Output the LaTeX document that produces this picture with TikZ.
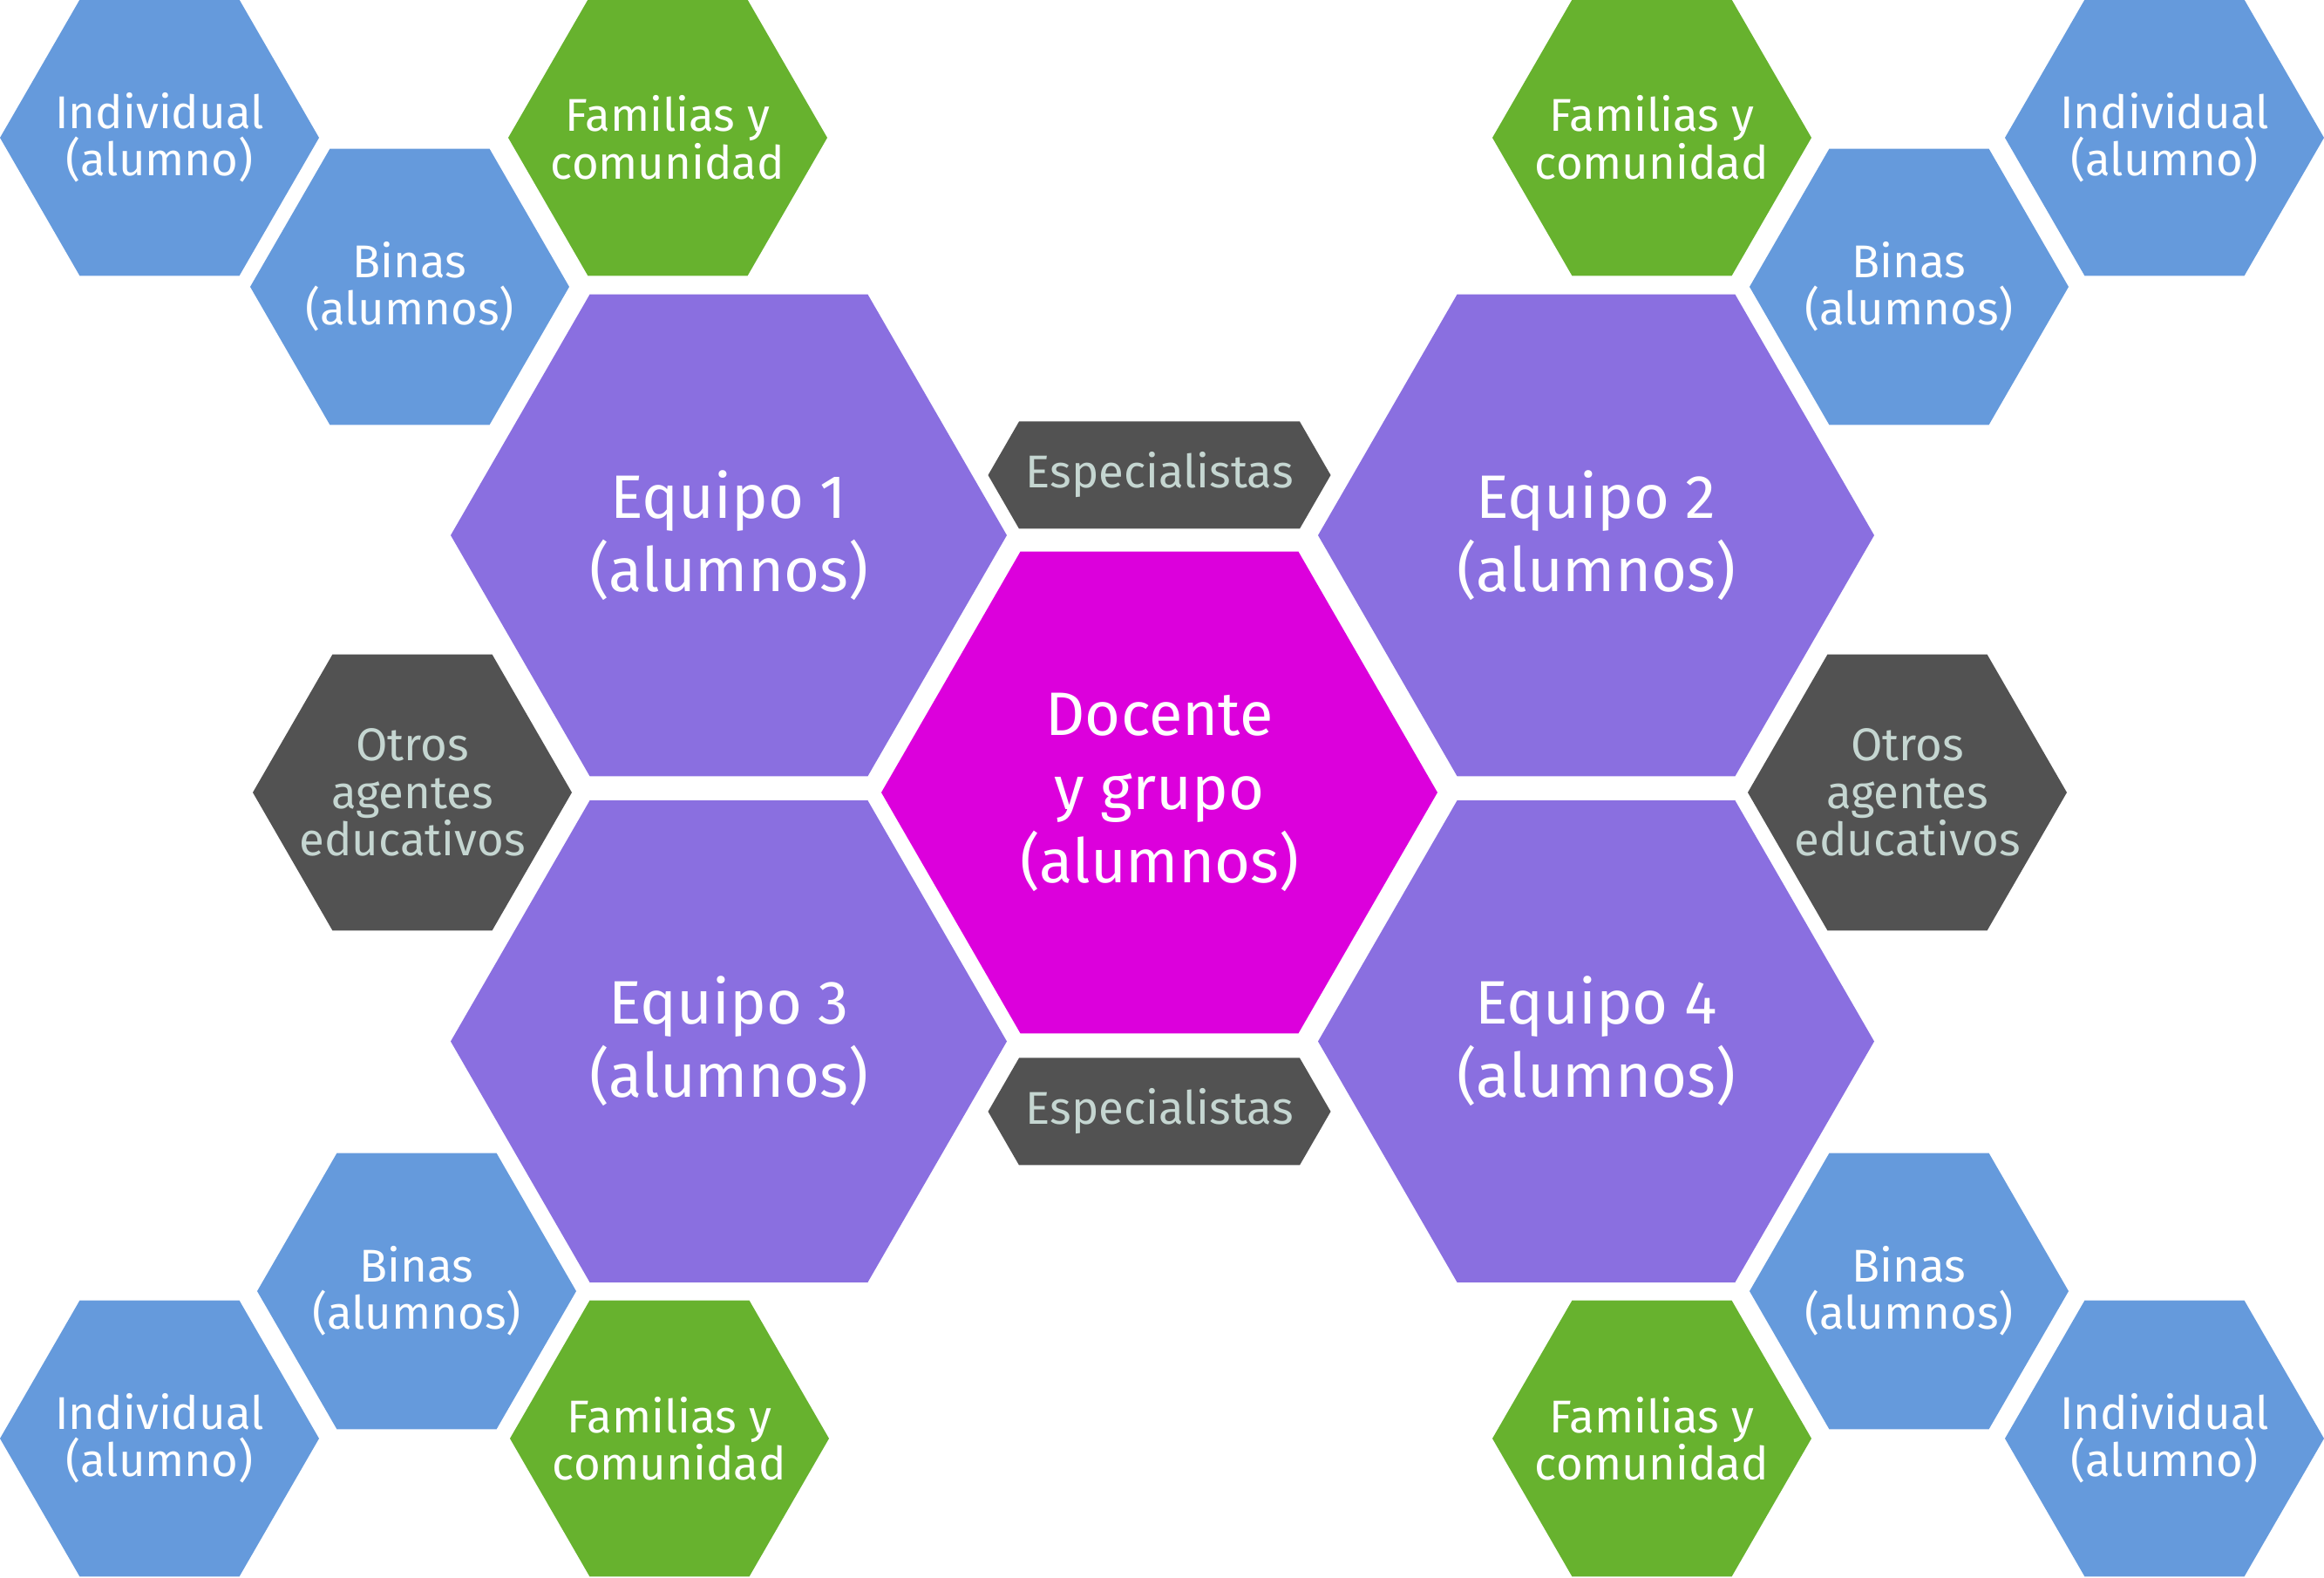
\documentclass[tikz,border=0pt]{standalone}
\usepackage{fontspec}
\setmainfont{Fira Sans}
\usetikzlibrary{shapes.geometric,shapes.symbols}
\definecolor{azul}{HTML}{659ADC}
\definecolor{verde}{HTML}{67B22E}
\definecolor{morado}{HTML}{8A6FE0}
\definecolor{magenta}{HTML}{DC00DC}
\definecolor{grisoscuro}{HTML}{525252}
\definecolor{grisclaro}{HTML}{C5D6D1}
\begin{document}
\begin{tikzpicture}[
    hexagono/.style={
        regular polygon,
        regular polygon sides=6,
        outer sep=0pt,
        align=center
    },
    chico/.style={
        hexagono,
        inner sep=-0.6cm,
        minimum size=3.66cm,
        text=white,
        font=\fontsize{15}{15.5}\selectfont
    },
    grande/.style={
        hexagono,
        inner sep=-0.6cm,
        minimum size=6.38cm,
        text=white,
        font=\fontsize{20}{24}\selectfont
    },
    alumno/.style={chico, fill=azul},
    familia/.style={chico, fill=verde},
    agentes/.style={chico, fill=grisoscuro, text=grisclaro},
    equipo/.style={grande, fill=morado},
    docente/.style={grande, fill=magenta},
    especialistas/.style={
        signal,
        signal to=west and east,
        signal pointer angle=120,
        minimum width=3.93cm,
        minimum height=1.23cm,
        inner sep=0pt,
        fill=grisoscuro,
        text=grisclaro,
        font=\fontsize{15}{15.5}\selectfont
    }
]
    \useasboundingbox (0,0) rectangle (26.66,18.09);

    \node[docente] (docente) at (13.30,9.00) {Docente\\y grupo\\(alumnos)};
    \node[equipo] (equipo-1) at (8.36,11.95) {Equipo 1\\(alumnos)};
    \node[equipo] (equipo-2) at (18.31,11.95) {Equipo 2\\(alumnos)};
    \node[equipo] (equipo-3) at (8.36,6.145) {Equipo 3\\(alumnos)};
    \node[equipo] (equipo-4) at (18.31,6.145) {Equipo 4\\(alumnos)};

    \node[especialistas] (esp-arriba) at (13.30,12.64) {Especialistas};
    \node[especialistas] (esp-abajo) at (13.30,5.34) {Especialistas};
    \node[agentes] (otros-izq) at (4.73,9.00) {Otros\\agentes\\educativos};
    \node[agentes] (otros-der) at (21.88,9.00) {Otros\\agentes\\educativos};

    \node[alumno] (individual-1) at (1.83,16.51) {Individual\\(alumno)};
    \node[alumno] (binas-1) at (4.70,14.80) {Binas\\(alumnos)};
    \node[familia] (familias-1) at (7.66,16.51) {Familias y\\comunidad};

    \node[familia] (familias-2) at (18.95,16.51) {Familias y\\comunidad};
    \node[alumno] (binas-2) at (21.90,14.80) {Binas\\(alumnos)};
    \node[alumno] (individual-2) at (24.83,16.51) {Individual\\(alumno)};

    \node[alumno] (binas-3) at (4.78,3.28) {Binas\\(alumnos)};
    \node[alumno] (individual-3) at (1.83,1.59) {Individual\\(alumno)};
    \node[familia] (familias-3) at (7.68,1.59) {Familias y\\comunidad};

    \node[alumno] (binas-4) at (21.90,3.28) {Binas\\(alumnos)};
    \node[familia] (familias-4) at (18.95,1.59) {Familias y\\comunidad};
    \node[alumno] (individual-4) at (24.83,1.59) {Individual\\(alumno)};
\end{tikzpicture}
\end{document}
